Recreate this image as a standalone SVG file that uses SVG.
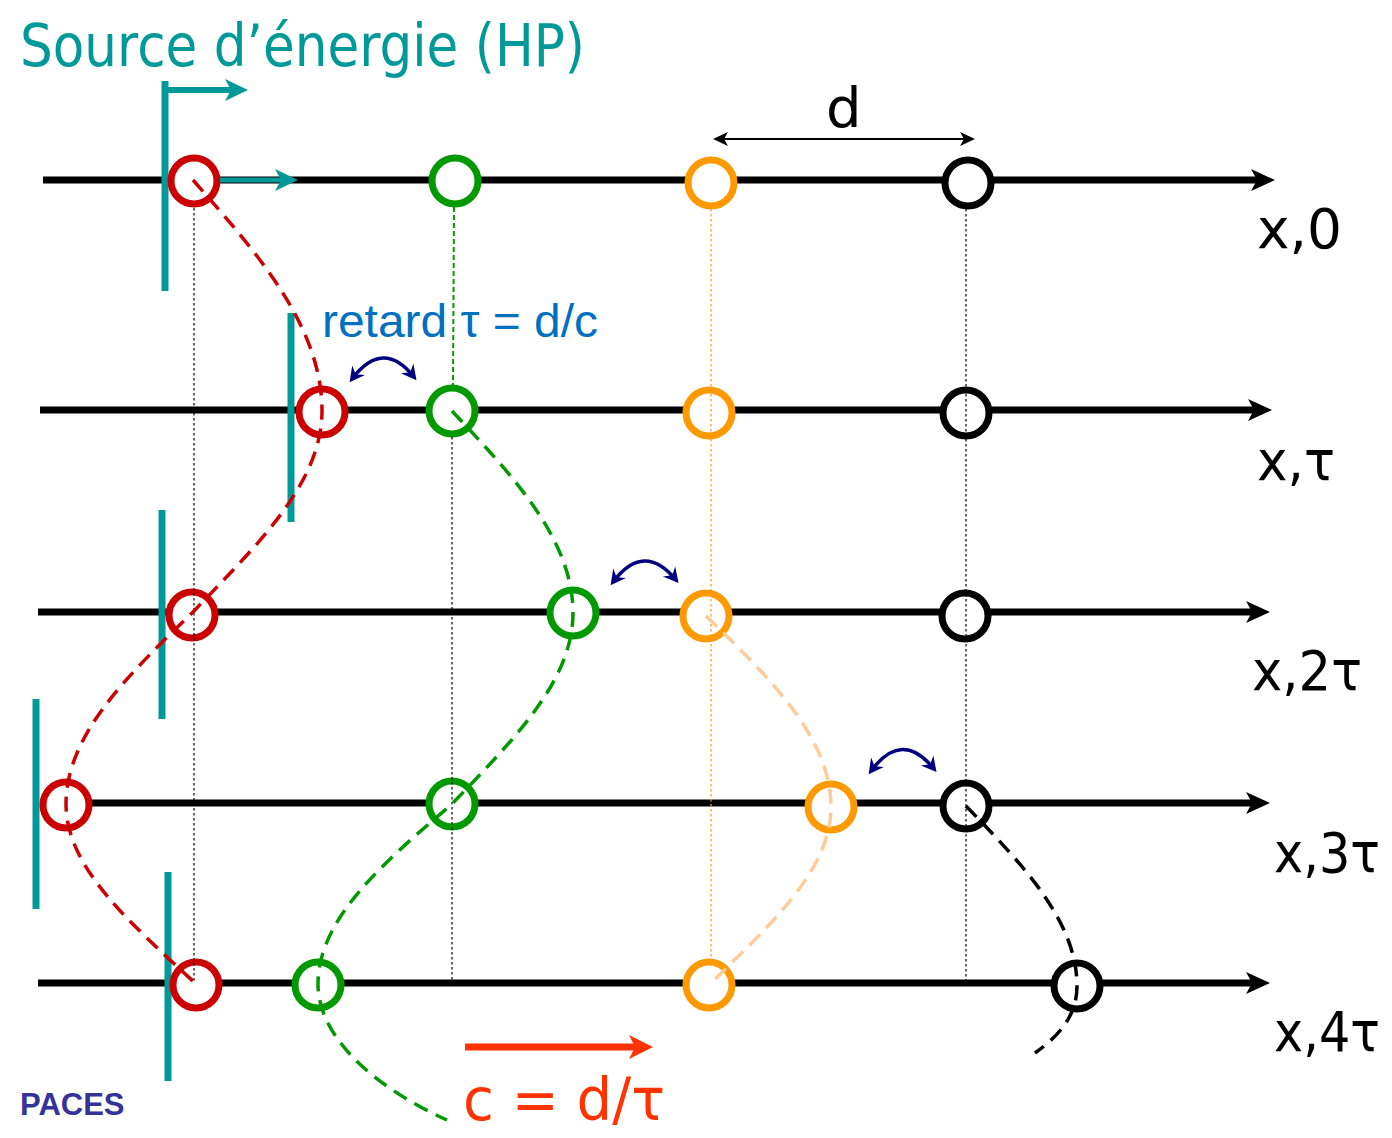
<svg xmlns="http://www.w3.org/2000/svg" width="1392" height="1138" viewBox="0 0 1392 1138">
<style>
.axis{stroke:#000;stroke-width:7;fill:none}
.ring{fill:#fff;stroke-width:7}
.bar{stroke:#009999;stroke-width:7;fill:none}
.dot{stroke-width:1.2;stroke-dasharray:2.5 2.5;fill:none}
.wave{stroke-width:3.5;stroke-dasharray:15 9;fill:none}
.lbl{font-family:"DejaVu Sans",Verdana,sans-serif;font-size:56px;fill:#000}
.nav{stroke:#000080;stroke-width:3.5;fill:none;marker-start:url(#nh);marker-end:url(#nh)}
</style>
<defs>
<marker id="ah" viewBox="-26 -12 28 24" refX="-12" refY="0" markerWidth="28" markerHeight="24" markerUnits="userSpaceOnUse" orient="auto"><path d="M0,0 L-24,-11 L-18,0 L-24,11 Z" fill="#000"/></marker>
<marker id="th" viewBox="-26 -13 28 26" refX="-12" refY="0" markerWidth="28" markerHeight="26" markerUnits="userSpaceOnUse" orient="auto"><path d="M0,0 L-23,-11 L-17,0 L-23,11 Z" fill="#009999"/></marker>
<marker id="rh" viewBox="-26 -13 28 26" refX="-12" refY="0" markerWidth="28" markerHeight="26" markerUnits="userSpaceOnUse" orient="auto"><path d="M0,0 L-24,-12 L-18,0 L-24,12 Z" fill="#FF3300"/></marker>
<marker id="dh" viewBox="-18 -9 20 18" refX="-3" refY="0" markerWidth="20" markerHeight="18" markerUnits="userSpaceOnUse" orient="auto-start-reverse"><path d="M0,0 L-15,-7 L-11,0 L-15,7 Z" fill="#000"/></marker>
<marker id="nh" viewBox="-18 -9 20 18" refX="-4" refY="0" markerWidth="20" markerHeight="18" markerUnits="userSpaceOnUse" orient="auto-start-reverse"><path d="M0,0 L-15,-8 L-10,0 L-15,8 Z" fill="#000080"/></marker>
</defs>
<rect width="1392" height="1138" fill="#fff"/>

<g id="axes">
<line class="axis" x1="43" y1="180" x2="1263" y2="180" marker-end="url(#ah)"/>
<line class="axis" x1="40" y1="410" x2="1260" y2="410" marker-end="url(#ah)"/>
<line class="axis" x1="38" y1="612" x2="1258" y2="612" marker-end="url(#ah)"/>
<line class="axis" x1="40" y1="803" x2="1258" y2="803" marker-end="url(#ah)"/>
<line class="axis" x1="38" y1="983" x2="1258" y2="983" marker-end="url(#ah)"/>
</g>

<g id="sources">
<line class="bar" x1="165" y1="81" x2="165" y2="291"/>
<line class="bar" x1="291" y1="313" x2="291" y2="522"/>
<line class="bar" x1="162" y1="510" x2="162" y2="719"/>
<line class="bar" x1="36" y1="699" x2="36" y2="909"/>
<line class="bar" x1="168" y1="872" x2="168" y2="1081"/>
</g>

<g id="node-r0"><circle class="ring" stroke="#CC0000" cx="194" cy="181" r="23"/></g>
<g id="node-g0"><circle class="ring" stroke="#009900" cx="455" cy="181" r="23"/></g>
<g id="node-o0"><circle class="ring" stroke="#FF9900" cx="711" cy="183" r="23"/></g>
<g id="node-k0"><circle class="ring" stroke="#000" cx="968" cy="183" r="23"/></g>

<g id="node-r1"><circle class="ring" stroke="#CC0000" cx="322" cy="412" r="23"/></g>
<g id="node-g1"><circle class="ring" stroke="#009900" cx="452" cy="411" r="23"/></g>
<g id="node-o1"><circle class="ring" stroke="#FF9900" cx="709" cy="413" r="23"/></g>
<g id="node-k1"><circle class="ring" stroke="#000" cx="966" cy="413" r="23"/></g>

<g id="node-r2"><circle class="ring" stroke="#CC0000" cx="192" cy="615" r="23"/></g>
<g id="node-g2"><circle class="ring" stroke="#009900" cx="573" cy="613" r="23"/></g>
<g id="node-o2"><circle class="ring" stroke="#FF9900" cx="706" cy="616" r="23"/></g>
<g id="node-k2"><circle class="ring" stroke="#000" cx="965" cy="616" r="23"/></g>

<g id="node-r3"><circle class="ring" stroke="#CC0000" cx="66" cy="805" r="23"/></g>
<g id="node-g3"><circle class="ring" stroke="#009900" cx="452" cy="804" r="23"/></g>
<g id="node-o3"><circle class="ring" stroke="#FF9900" cx="831" cy="807" r="23"/></g>
<g id="node-k3"><circle class="ring" stroke="#000" cx="966" cy="806" r="23"/></g>

<g id="node-r4"><circle class="ring" stroke="#CC0000" cx="196" cy="985" r="23"/></g>
<g id="node-g4"><circle class="ring" stroke="#009900" cx="318" cy="985" r="23"/></g>
<g id="node-o4"><circle class="ring" stroke="#FF9900" cx="709" cy="985" r="23"/></g>
<g id="node-k4"><circle class="ring" stroke="#000" cx="1077" cy="986" r="23"/></g>

<g id="connectors">
<line class="dot" stroke="#000" x1="194" y1="208" x2="194" y2="983"/>
<line class="dot" stroke="#000" x1="452" y1="437" x2="452" y2="980"/>
<line class="dot" stroke="#FF9900" x1="711" y1="209" x2="711" y2="960"/>
<line class="dot" stroke="#000" x1="966" y1="209" x2="966" y2="980"/>
<line stroke="#009900" stroke-width="2" stroke-dasharray="5 3" x1="454" y1="207" x2="453" y2="386"/>

<path class="wave" stroke="#CC0000" d="M193,180 C259,255 322,327 322,411 C322,484 255,547 192,613 C128,675 66,735 66,804 C66,869 133,925 196,984"/>
<path class="wave" stroke="#009900" d="M452,411 C514,477 573,540 573,613 C573,682 511,742 452,804 C383,863 318,919 318,984 C318,1040 380,1090 447,1120"/>
<path class="wave" stroke="#FFCC99" d="M706,616 C770,678 831,738 831,807 C831,871 768,927 709,985"/>
<path class="wave" stroke="#000" stroke-dasharray="12 8" d="M966,806 C1023,865 1077,921 1077,986 C1077,1015 1060,1035 1035,1053"/>

<line stroke="#009999" stroke-width="6" x1="168" y1="90" x2="236" y2="90" marker-end="url(#th)"/>
<line stroke="#009999" stroke-width="5" x1="220" y1="180" x2="286" y2="180" marker-end="url(#th)"/>
<line stroke="#000" stroke-width="2" x1="716" y1="139" x2="972" y2="139" marker-start="url(#dh)" marker-end="url(#dh)"/>
<line stroke="#FF3300" stroke-width="7" x1="465" y1="1047" x2="641" y2="1047" marker-end="url(#rh)"/>

<path class="nav" d="M352,379 Q383,338 414,377"/>
<path class="nav" d="M613,582 Q644,541 676,580"/>
<path class="nav" d="M871,771 Q902,729 934,769"/>
</g>

<g id="labels">
<text x="20" y="66" font-family="'DejaVu Sans',Verdana,sans-serif" font-size="58" fill="#009999" textLength="565" lengthAdjust="spacingAndGlyphs">Source d’énergie (HP)</text>
<text x="826" y="127" class="lbl" font-size="56">d</text>
<text x="322" y="337" font-family="'Liberation Sans',Arial,sans-serif" font-size="46" fill="#0070C0" textLength="276" lengthAdjust="spacingAndGlyphs">retard τ = d/c</text>
<text x="1257" y="248" class="lbl" textLength="85" lengthAdjust="spacingAndGlyphs">x,0</text>
<text x="1257" y="480" class="lbl" textLength="78" lengthAdjust="spacingAndGlyphs">x,τ</text>
<text x="1252" y="690" class="lbl" textLength="110" lengthAdjust="spacingAndGlyphs">x,2τ</text>
<text x="1274" y="872" class="lbl" textLength="106" lengthAdjust="spacingAndGlyphs">x,3τ</text>
<text x="1274" y="1051" class="lbl" textLength="106" lengthAdjust="spacingAndGlyphs">x,4τ</text>
<text x="463" y="1120" font-family="'DejaVu Sans',Verdana,sans-serif" font-size="58" fill="#FF3300" textLength="202" lengthAdjust="spacingAndGlyphs">c = d/τ</text>
<text x="20" y="1115" font-family="'Liberation Sans',Arial,sans-serif" font-weight="bold" font-size="31" fill="#333399">PACES</text>
</g>
</svg>
